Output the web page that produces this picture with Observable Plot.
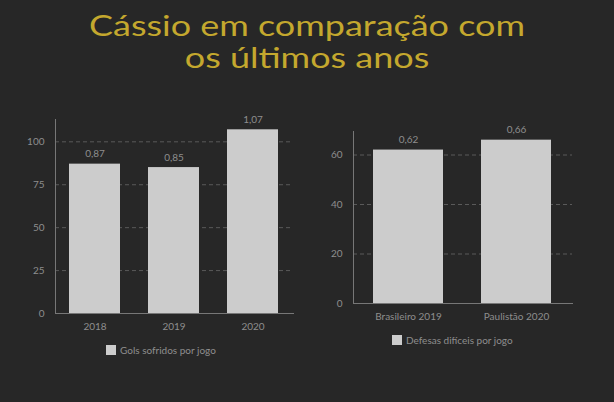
<!DOCTYPE html>
<html><head><meta charset="utf-8">
<script src="https://cdn.jsdelivr.net/npm/d3@7"></script>
<script src="https://cdn.jsdelivr.net/npm/@observablehq/plot@0.6"></script>
<style>
html,body{margin:0;padding:0;background:#272727;width:614px;height:402px;overflow:hidden;font-family:Lato,"Open Sans",sans-serif;}
#title{position:absolute;left:0;top:10px;width:614px;text-align:center;color:#c4a82e;font-size:28px;line-height:31.5px;transform-origin:307px 0;}
.chart{position:absolute;}
.legend{position:absolute;color:#8e8e8e;font-size:10px;line-height:10px;display:flex;align-items:center;}
.legend span.sw{display:inline-block;width:10px;height:10px;background:#cccccc;margin-right:4px;}
</style></head>
<body>
<div id="title"><span id="t1">Cássio em comparação com</span><br><span>os últimos anos</span></div>
<div id="c1" class="chart" style="left:0;top:100px"></div>
<div id="c2" class="chart" style="left:310px;top:100px"></div>
<div class="legend" style="left:106px;top:345px"><span class="sw"></span>Gols sofridos por jogo</div>
<div class="legend" style="left:392px;top:335px"><span class="sw"></span>Defesas difíceis por jogo</div>
<script>
const years = ["2018", "2019", "2020"];
const gols = [87, 85, 107];
const golsLabels = ["0,87", "0,85", "1,07"];
const golsTicks = [0, 25, 50, 75, 100];

const comps = ["Brasileiro 2019", "Paulistão 2020"];
const defesas = [62, 66];
const defesasLabels = ["0,62", "0,66"];
const defesasTicks = [0, 20, 40, 60];

// widen the title to the reference's wide display face
const t1w = document.getElementById("t1").getBoundingClientRect().width;
document.getElementById("title").style.transform = `scaleX(${436 / t1w})`;

function chart(cats, vals, labels, ticks, ymax, opts) {
  const data = cats.map((c, i) => ({c, v: vals[i], l: labels[i]}));
  return Plot.plot({
    width: opts.width, height: opts.height,
    marginLeft: opts.ml, marginRight: opts.mr, marginTop: opts.mt, marginBottom: opts.mb,
    style: {background: "transparent", color: "#8e8e8e", fontFamily: "Lato, sans-serif", fontSize: "10px"},
    x: {domain: cats, paddingInner: 0.35, paddingOuter: 0.18, label: null, tickSize: 0, tickPadding: 9},
    y: {domain: [0, ymax], ticks: ticks, label: null, tickSize: 0, tickPadding: 11},
    marks: [
      Plot.gridY(ticks.filter(t => t > 0), {stroke: "#5a5a5a", strokeOpacity: 1, strokeDasharray: "4,3"}),
      Plot.barY(data, {x: "c", y: "v", fill: "#cccccc"}),
      Plot.text(data, {x: "c", y: "v", text: "l", dy: -10, fill: "#8e8e8e", fontSize: 10}),
      Plot.axisX({tickSize: 0, tickPadding: 9, fill: "#8e8e8e", fontSize: 10}),
      Plot.axisY(ticks, {tickSize: 0, tickPadding: 11, fill: "#8e8e8e", fontSize: 10}),
      Plot.frame({anchor: "left", stroke: "#777"}),
      Plot.frame({anchor: "bottom", stroke: "#777"})
    ]
  });
}

document.getElementById("c1").append(
  chart(years, gols, golsLabels, golsTicks, 113, {width: 305, height: 240, ml: 55, mr: 12, mt: 19, mb: 27})
);
document.getElementById("c2").append(
  chart(comps, defesas, defesasLabels, defesasTicks, 69.5, {width: 290, height: 240, ml: 43, mr: 28, mt: 31, mb: 37})
);
</script>
</body></html>
